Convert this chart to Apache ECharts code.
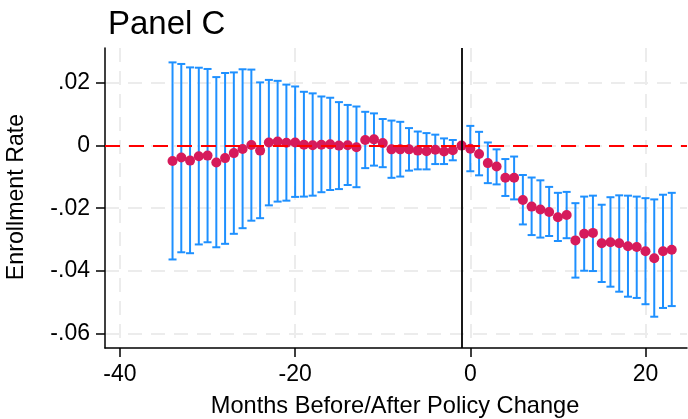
<!DOCTYPE html>
<html>
<head>
<meta charset="utf-8">
<script src="https://cdn.jsdelivr.net/npm/echarts@6/dist/echarts.min.js"></script>
<style>
  html, body { margin: 0; padding: 0; background: #fff; }
  #chart { width: 688px; height: 419px; }
</style>
</head>
<body>
<div id="chart"></div>
<script>
// Event-study estimates: months relative to the policy change (-1 is the omitted reference month)
const months = [-34,-33,-32,-31,-30,-29,-28,-27,-26,-25,-24,-23,-22,-21,-20,-19,-18,-17,-16,-15,-14,-13,-12,-11,-10,-9,-8,-7,-6,-5,-4,-3,-2,-1,0,1,2,3,4,5,6,7,8,9,10,11,12,13,14,15,16,17,18,19,20,21,22,23];

const estimate = [-0.0049,-0.0038,-0.0048,-0.0034,-0.0032,-0.0054,-0.0040,-0.0024,-0.0011,0.0002,-0.0016,0.0010,0.0013,0.0009,0.0010,0.0003,0.0001,0.0003,0.0004,0.0000,0.0001,-0.0005,0.0018,0.0020,0.0008,-0.0012,-0.0012,-0.0012,-0.0016,-0.0018,-0.0013,-0.0019,-0.0015,0.0000,-0.0010,-0.0027,-0.0056,-0.0067,-0.0103,-0.0103,-0.0174,-0.0195,-0.0204,-0.0212,-0.0229,-0.0222,-0.0303,-0.0282,-0.0279,-0.0312,-0.0309,-0.0312,-0.0322,-0.0324,-0.0338,-0.0360,-0.0338,-0.0333];

const ciLow = [-0.0364,-0.0341,-0.0344,-0.0316,-0.0309,-0.0325,-0.0314,-0.0282,-0.0264,-0.0240,-0.0232,-0.0191,-0.0179,-0.0176,-0.0164,-0.0163,-0.0160,-0.0149,-0.0142,-0.0139,-0.0126,-0.0133,-0.0072,-0.0064,-0.0069,-0.0103,-0.0099,-0.0080,-0.0076,-0.0076,-0.0059,-0.0059,-0.0047,null,-0.0082,-0.0095,-0.0120,-0.0124,-0.0161,-0.0172,-0.0252,-0.0286,-0.0294,-0.0289,-0.0305,-0.0296,-0.0422,-0.0400,-0.0401,-0.0436,-0.0451,-0.0467,-0.0483,-0.0487,-0.0507,-0.0547,-0.0519,-0.0513];

const ciHigh = [0.0266,0.0261,0.0250,0.0249,0.0245,0.0219,0.0232,0.0234,0.0244,0.0243,0.0202,0.0210,0.0207,0.0195,0.0189,0.0172,0.0167,0.0157,0.0153,0.0139,0.0130,0.0125,0.0108,0.0103,0.0085,0.0080,0.0076,0.0056,0.0045,0.0040,0.0035,0.0023,0.0018,null,0.0063,0.0044,0.0010,-0.0012,-0.0043,-0.0035,-0.0094,-0.0102,-0.0111,-0.0132,-0.0151,-0.0148,-0.0184,-0.0163,-0.0160,-0.0189,-0.0165,-0.0159,-0.0160,-0.0163,-0.0168,-0.0172,-0.0157,-0.0151];

const xTicks = [-40, -20, 0, 20];
const yTicks = [-0.06, -0.04, -0.02, 0, 0.02];
const policyMonth = -1;

const titleText = 'Panel C';
const xTitle = 'Months Before/After Policy Change';
const yTitle = 'Enrollment Rate';

const FONT = '"Liberation Sans", Arial, Helvetica, sans-serif';
const BAR_COLOR = '#1e90ff';
const DOT_COLOR = '#d61a5b';
const GRID_COLOR = '#ececec';

const pointData = months.map((m, i) => [m, estimate[i]]);
const barData = months
  .map((m, i) => [m, ciLow[i], ciHigh[i]])
  .filter(d => d[1] !== null && d[2] !== null);

function fmtY(v) {
  if (Math.abs(v) < 1e-9) return '0';
  return v.toFixed(2).replace('0.', '.');
}

const chart = echarts.init(document.getElementById('chart'), null, { renderer: 'canvas' });

chart.setOption({
  animation: false,
  backgroundColor: '#ffffff',
  grid: { left: 105, right: 1, top: 48, bottom: 71, containLabel: false },
  xAxis: {
    type: 'value',
    min: -41.71,
    max: 24.74,
    axisLine: { show: true, onZero: false, lineStyle: { color: '#000', width: 1.5 } },
    axisTick: { show: true, length: 9, customValues: xTicks, lineStyle: { color: '#000', width: 1.5 } },
    axisLabel: { customValues: xTicks, color: '#000', fontSize: 23, fontFamily: FONT, margin: 15,
                 formatter: v => String(v) },
    splitLine: { show: true, lineStyle: { color: GRID_COLOR, width: 2, type: [14, 9] } }
  },
  yAxis: {
    type: 'value',
    min: -0.0647,
    max: 0.0312,
    axisLine: { show: true, onZero: false, lineStyle: { color: '#000', width: 1.5 } },
    axisTick: { show: true, length: 9, customValues: yTicks, lineStyle: { color: '#000', width: 1.5 } },
    axisLabel: { customValues: yTicks, color: '#000', fontSize: 23, fontFamily: FONT, margin: 15,
                 formatter: fmtY },
    splitLine: { show: true, lineStyle: { color: GRID_COLOR, width: 2, type: [14, 9] } }
  },
  graphic: [
    { type: 'text', x: 108, y: 25, style: { text: titleText, fill: '#000', font: '33px ' + FONT,
      textAlign: 'left', textVerticalAlign: 'middle' } },
    { type: 'text', x: 395, y: 406, style: { text: xTitle, fill: '#000', font: '23.6px ' + FONT,
      textAlign: 'center', textVerticalAlign: 'middle' } },
    { type: 'text', x: 17, y: 197, rotation: Math.PI / 2, style: { text: yTitle, fill: '#000', font: '23.2px ' + FONT,
      textAlign: 'center', textVerticalAlign: 'middle' } }
  ],
  series: [
    {
      // reference lines: zero effect and the policy month
      type: 'line',
      data: [],
      z: 1,
      markLine: {
        silent: true,
        symbol: 'none',
        label: { show: false },
        data: [
          { yAxis: 0, lineStyle: { color: '#ff0000', width: 2, type: [15, 9] } },
          { xAxis: policyMonth, lineStyle: { color: '#000', width: 1.8, type: 'solid' } }
        ]
      }
    },
    {
      // 95% confidence intervals with end caps
      type: 'custom',
      z: 2,
      data: barData,
      renderItem: function (params, api) {
        const x = api.value(0);
        const lo = api.coord([x, api.value(1)]);
        const hi = api.coord([x, api.value(2)]);
        const hw = 4;
        const st = { stroke: BAR_COLOR, lineWidth: 2 };
        return {
          type: 'group',
          children: [
            { type: 'line', shape: { x1: hi[0], y1: hi[1], x2: lo[0], y2: lo[1] }, style: st },
            { type: 'line', shape: { x1: hi[0] - hw, y1: hi[1], x2: hi[0] + hw, y2: hi[1] }, style: st },
            { type: 'line', shape: { x1: lo[0] - hw, y1: lo[1], x2: lo[0] + hw, y2: lo[1] }, style: st }
          ]
        };
      }
    },
    {
      // point estimates
      type: 'scatter',
      z: 3,
      symbol: 'circle',
      symbolSize: 10,
      itemStyle: { color: DOT_COLOR, opacity: 1 },
      data: pointData
    }
  ]
});
</script>
</body>
</html>
